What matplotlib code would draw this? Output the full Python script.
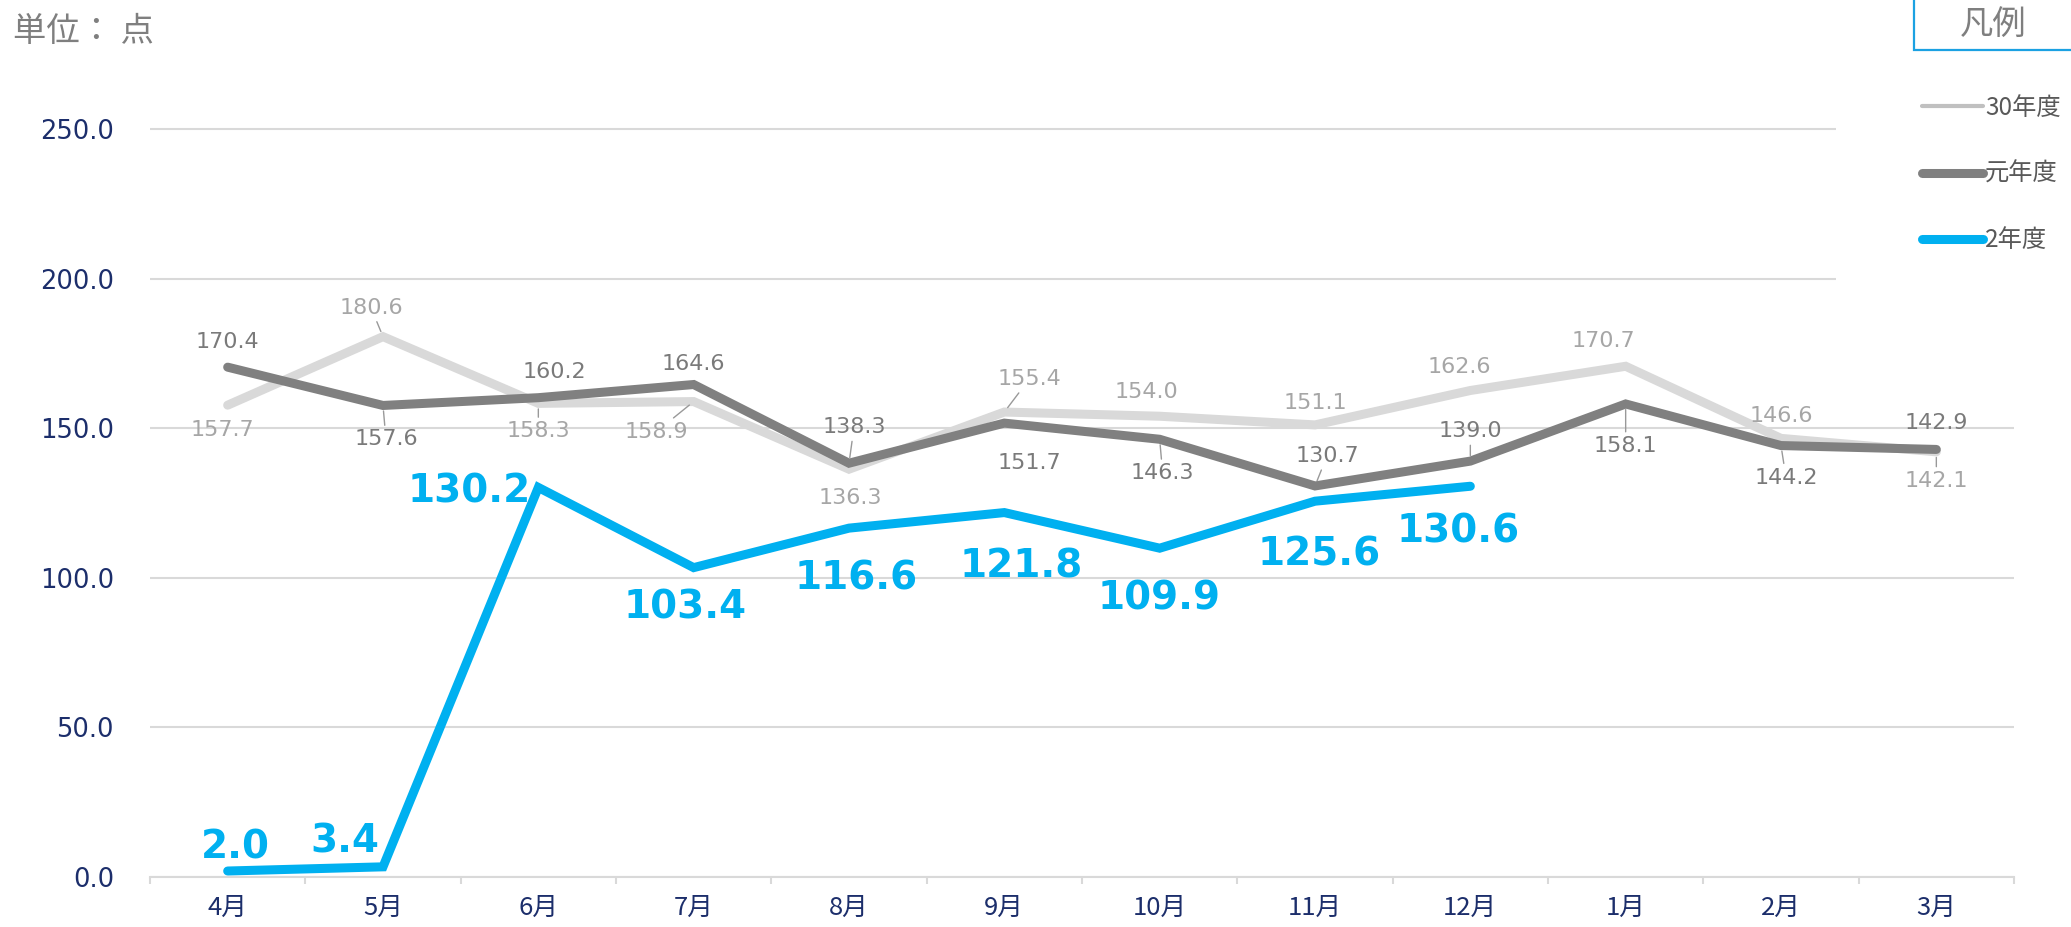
import numpy as np
import matplotlib
matplotlib.use('Agg')
import matplotlib.pyplot as plt
from matplotlib.lines import Line2D
from matplotlib.patches import Rectangle

plt.rcParams['font.family'] = ['DejaVu Sans', 'Noto Sans CJK JP']

# data
months = ['4月', '5月', '6月', '7月', '8月', '9月', '10月', '11月', '12月', '1月', '2月', '3月']
series_names = ['30年度', '元年度', '2年度']
h30 = [157.7, 180.6, 158.3, 158.9, 136.3, 155.4, 154.0, 151.1, 162.6, 170.7, 146.6, 142.1]
r1 = [170.4, 157.6, 160.2, 164.6, 138.3, 151.7, 146.3, 130.7, 139.0, 158.1, 144.2, 142.9]
r2 = [2.0, 3.4, 130.2, 103.4, 116.6, 121.8, 109.9, 125.6, 130.6]
yticks = [0, 50, 100, 150, 200, 250]

# label placement (pixel offsets from the point, leader line flag)
h30_off = [(-5, -25, 0), (-12, 29, 1), (0, -28, 1), (-37, -30, 1), (1, -29, 0), (25, 33, 1),
           (-13, 24, 0), (0, 22, 0), (-11, 24, 0), (-22, 25, 0), (0, 22, 0), (0, -29, 1)]
r1_off = [(0, 25, 0), (3, -34, 1), (16, 26, 0), (0, 21, 0), (5, 36, 1), (25, -40, 0),
          (3, -34, 1), (12, 30, 1), (0, 30, 1), (0, -42, 1), (5, -32, 1), (0, 26, 0)]
r2_off = [(8, 24), (-38, 25), (-69, -4), (-9, -40), (7, -50), (17, -54), (-1, -50), (4, -53), (-12, -45)]

C_LIGHT = '#D9D9D9'
C_DARK = '#808080'
C_BLUE = '#00B0F0'
C_NAVY = '#1C2E6B'
CJK = ['Noto Sans CJK JP', 'DejaVu Sans']

W, H = 2071, 927
fig = plt.figure(figsize=(W / 100, H / 100), dpi=100)
y_top = 251
ax = fig.add_axes([150 / W, (H - 877) / H, (2014 - 150) / W, (877 - (129 - 2.992)) / H])

x = np.arange(len(months))
ax.plot(x, h30, color=C_LIGHT, lw=6.5, solid_capstyle='round', solid_joinstyle='miter', zorder=3, clip_on=False)
ax.plot(x, r1, color=C_DARK, lw=6.5, solid_capstyle='round', solid_joinstyle='miter', zorder=4, clip_on=False)
ax.plot(x[:len(r2)], r2, color=C_BLUE, lw=6.5, solid_capstyle='round', solid_joinstyle='miter', zorder=5, clip_on=False)


def put_labels(vals, offs, color, size, weight='normal'):
    for i, v in enumerate(vals):
        dx, dy = offs[i][0], offs[i][1]
        lead = offs[i][2] if len(offs[i]) > 2 else 0
        kw = {}
        if lead:
            kw['arrowprops'] = dict(arrowstyle='-', color='#999999', lw=1.0, shrinkA=1, shrinkB=4)
        ax.annotate('%.1f' % v, (i, v), xytext=(dx, dy), textcoords='offset pixels',
                    ha='center', va='center', fontsize=size, color=color,
                    fontweight=weight, family='DejaVu Sans', zorder=6, **kw)


put_labels(h30, h30_off, '#A6A6A6', 16)
put_labels(r1, r1_off, '#7A7A7A', 16)
put_labels(r2, r2_off, C_BLUE, 28, 'bold')

ax.set_xlim(-0.5, len(months) - 0.5)
ax.set_ylim(0, y_top)
ax.set_xticks(x)
ax.set_xticklabels(months, family=CJK, fontsize=18.5, color=C_NAVY)
ax.set_xticks(np.arange(-0.5, len(months)), minor=True)
ax.tick_params(axis='x', which='major', length=0, pad=13)
ax.tick_params(axis='x', which='minor', length=5, width=1.5, color=C_LIGHT)
ax.set_yticks(yticks)
ax.set_yticklabels(['%.1f' % t for t in yticks], fontsize=18.5, color=C_NAVY)
ax.tick_params(axis='y', length=0, pad=26)
ax.yaxis.grid(True, color=C_LIGHT, lw=1.5)
ax.set_axisbelow(True)
for s in ['top', 'right', 'left']:
    ax.spines[s].set_visible(False)
ax.spines['bottom'].set_color(C_LIGHT)
ax.spines['bottom'].set_linewidth(1.5)

# white legend area over the top gridlines
fig.patches.append(Rectangle((1836 / W, (H - 300) / H), 1, 1, transform=fig.transFigure,
                             facecolor='white', edgecolor='none', zorder=1))
# 凡例 header box
fig.patches.append(Rectangle((1914 / W, (H - 50) / H), 0.2, 0.2, transform=fig.transFigure,
                             facecolor='white', edgecolor='#1BA1E2', lw=1.6, zorder=2))
fig.text(1993 / W, 1 - 24 / H, '凡例', family=CJK, fontsize=24, color='#7F7F7F',
         ha='center', va='center')

handles = [Line2D([], [], color='#C0C0C0', lw=3, solid_capstyle='round'),
           Line2D([], [], color=C_DARK, lw=6.5, solid_capstyle='round'),
           Line2D([], [], color=C_BLUE, lw=6.5, solid_capstyle='round')]
leg = fig.legend(handles, series_names, loc='upper left', bbox_to_anchor=(1922 / W, 1 - 95 / H),
                 frameon=False, prop={'family': CJK, 'size': 17.5}, handlelength=2.5,
                 handletextpad=0.1, labelspacing=1.65, borderpad=0, borderaxespad=0)
for t in leg.get_texts():
    t.set_color('#595959')

fig.text(13 / W, 1 - 31 / H, '単位： 点', family=CJK, fontsize=24, color='#7F7F7F',
         ha='left', va='center')

fig.savefig('out.png', dpi=100)
